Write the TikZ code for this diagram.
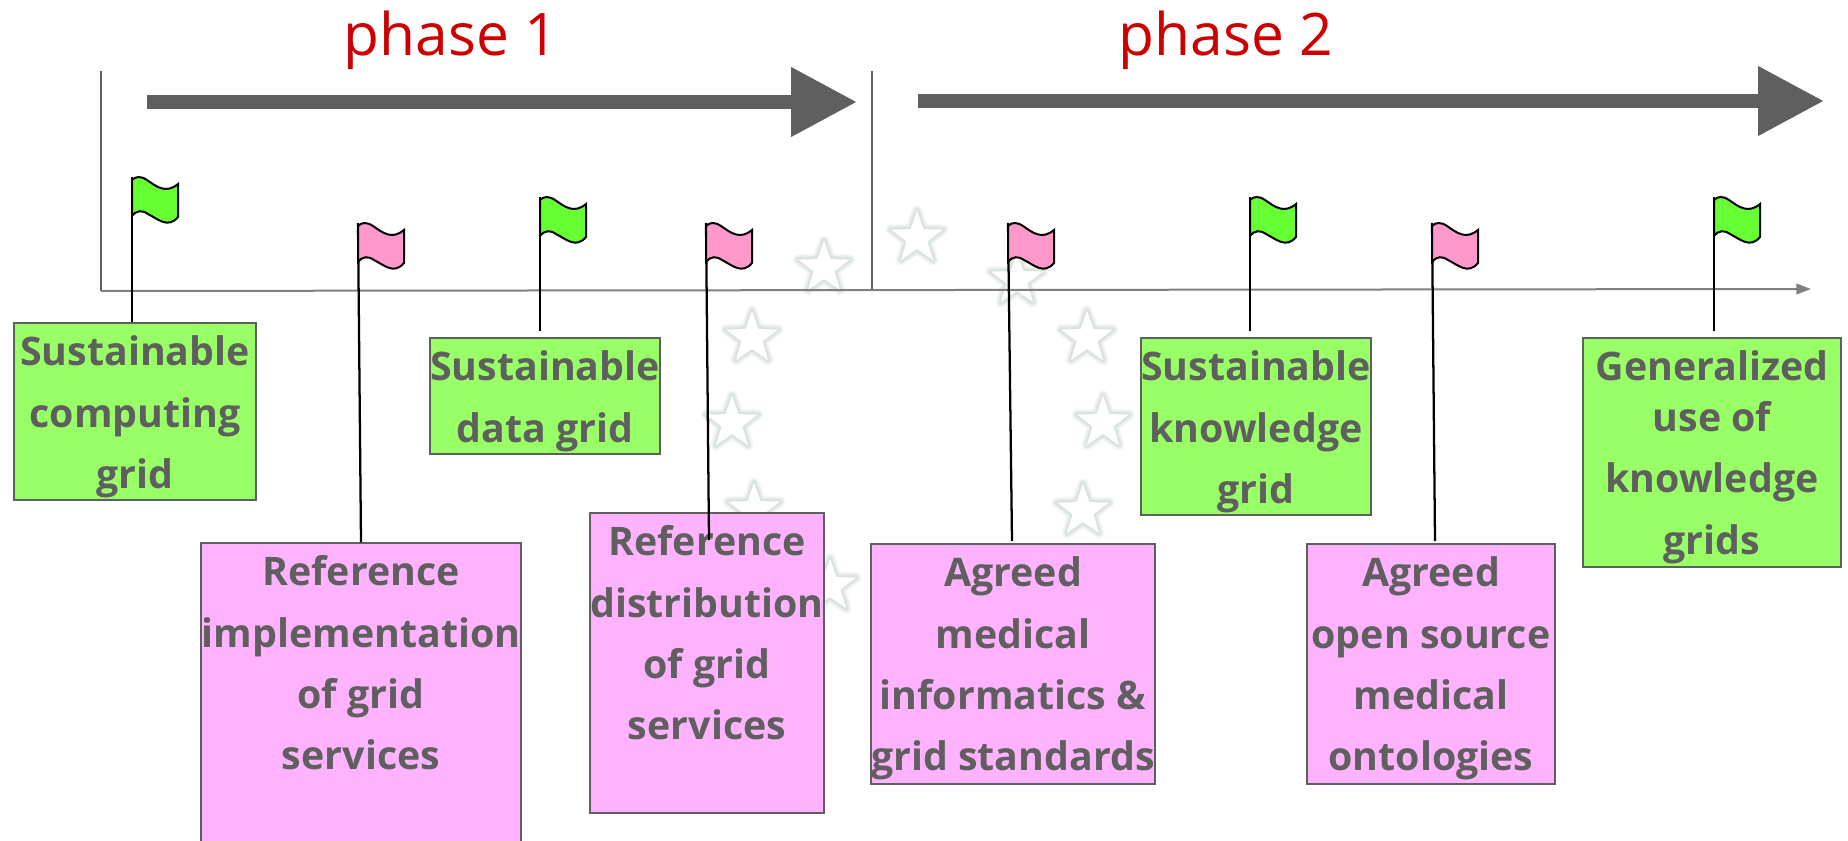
\documentclass[tikz,border=0pt]{standalone}
\usepackage{fontspec}
\setmainfont{Open Sans}
\usetikzlibrary{arrows.meta, positioning, calc, shapes.geometric}
\definecolor{phasered}{HTML}{CC0000}
\definecolor{axisgray}{HTML}{808080}
\definecolor{darkgray}{HTML}{5F5F5F}
\definecolor{boxgreen}{HTML}{99FF66}
\definecolor{boxpink}{HTML}{FFB3FF}
\definecolor{flaggreen}{HTML}{66FF33}
\definecolor{flagpink}{HTML}{FF99CC}
\definecolor{starglow}{HTML}{A5B8AC}
\tikzset{
  gridbox/.style={draw=darkgray, line width=1.6pt, anchor=north, inner sep=0pt, align=center,
    text=darkgray, font=\fontsize{29.5}{46}\selectfont\bfseries},
  greenbox/.style={gridbox, fill=boxgreen},
  pinkbox/.style={gridbox, fill=boxpink},
  bigarrow/.style={darkgray, line width=10.5pt, -{Triangle[length=49.5pt,width=49.5pt]}},
  phaselabel/.style={text=phasered, font=\fontsize{44}{50}\selectfont},
  eustar/.style={star, star points=5, star point ratio=2.5, minimum size=41pt, inner sep=0pt, fill=white,
    line join=round,
    preaction={draw=starglow, line width=9pt, opacity=.05},
    preaction={draw=starglow, line width=7.5pt, opacity=.08},
    preaction={draw=starglow, line width=6pt, opacity=.1},
    preaction={draw=starglow, line width=4.5pt, opacity=.12},
    preaction={draw=starglow, line width=3pt, opacity=.14}},
  pole/.style={black, line width=1.7pt},
  flagpic/.pic={
    \draw[black, line width=1.5pt, fill=#1] (0,3) .. controls (4,-1) and (9,-1) .. (15,3)
      .. controls (25,10) and (34,17) .. (46,7) -- (46,40) .. controls (36,52) and (26,42) .. (16,37)
      .. controls (10,33) and (5,33) .. (0,39) -- cycle;
  }
}
\begin{document}
\begin{tikzpicture}[x=0.75pt,y=-0.75pt]
        \useasboundingbox (0,0) rectangle (1848,841);
        \clip (0,0) rectangle (1848,841);
        \node[eustar] (S1) at (917,238) {};
        \node[eustar] (S2) at (824,268) {};
        \node[eustar] (S3) at (752,338) {};
        \node[eustar] (S4) at (732,423) {};
        \node[eustar] (S5) at (754,510) {};
        \node[eustar] (S6) at (830,586) {};
        \node[eustar] (S7) at (1017,280) {};
        \node[eustar] (S8) at (1087,338) {};
        \node[eustar] (S9) at (1103,423) {};
        \node[eustar] (S10) at (1083,511) {};
%
        \node[phaselabel] (P1) at (451,40) {phase 1};
        \node[phaselabel] (P2) at (1226,40) {phase 2};
        \coordinate (P1a) at (147,102);
        \coordinate (P1b) at (857,102);
        \coordinate (P2a) at (918,101);
        \coordinate (P2b) at (1824,101);
        \draw[bigarrow] (P1a) -- (P1b);
        \draw[bigarrow] (P2a) -- (P2b);
%
        \coordinate (O) at (101,291);
        \coordinate (Otop) at (101,71);
        \coordinate (M) at (872,291);
        \coordinate (Mtop) at (872,71);
        \coordinate (E) at (1811,289);
        \draw[darkgray, line width=1.8pt] (Otop) -- (O);
        \draw[darkgray, line width=1.8pt] (Mtop) -- (M);
        \draw[axisgray, line width=1.5pt, -{Triangle[length=11pt,width=8pt]}] (O) -- (E);
%
        \node[greenbox, minimum width=182pt, minimum height=133pt, text depth=9pt, text height=124pt] (A) at (135,322) {Sustainable\\computing\\grid};
        \node[greenbox, minimum width=172pt, minimum height=87pt, text depth=9pt, text height=78pt] (B) at (545,337) {Sustainable\\data grid};
        \node[greenbox, minimum width=172pt, minimum height=133pt, text depth=9pt, text height=124pt] (C) at (1256,337) {Sustainable\\knowledge\\grid};
        \node[greenbox, minimum width=193pt, minimum height=172pt, text depth=10pt, text height=162pt] (D) at (1712,337) {Generalized\\[-8pt]use of\\knowledge\\grids};
%
        \node[pinkbox, minimum width=240pt, minimum height=240pt, text depth=70pt, text height=170pt] (F) at (361,542) {Reference\\implementation\\of grid\\services};
        \node[pinkbox, minimum width=176pt, minimum height=225pt, text depth=55pt, text height=170pt] (G) at (707,512) {Reference\\distribution\\of grid\\services};
        \node[pinkbox, minimum width=213pt, minimum height=180pt, text depth=10pt, text height=170pt] (H) at (1013,543) {Agreed\\medical\\informatics \&\\grid standards};
        \node[pinkbox, minimum width=186pt, minimum height=180pt, text depth=10pt, text height=170pt] (J) at (1431,543) {Agreed\\open source\\medical\\ontologies};
%
        \coordinate (Atop) at (132,177);
        \coordinate (Afoot) at (132,322);
        \coordinate (Ftop) at (358,223);
        \coordinate (Ffoot) at (361,542);
        \coordinate (Btop) at (540,197);
        \coordinate (Bfoot) at (540,331);
        \coordinate (Gtop) at (706,223);
        \coordinate (Gfoot) at (709,540);
        \coordinate (Htop) at (1008,223);
        \coordinate (Hfoot) at (1012,541);
        \coordinate (Ctop) at (1250,197);
        \coordinate (Cfoot) at (1250,331);
        \coordinate (Jtop) at (1432,223);
        \coordinate (Jfoot) at (1435,541);
        \coordinate (Dtop) at (1714,197);
        \coordinate (Dfoot) at (1714,331);
%
        \draw[pole, line width=2.2pt] (Atop) -- (Afoot);
        \draw[pole] (Ftop) -- (Ffoot);
        \draw[pole] (Btop) -- (Bfoot);
        \draw[pole] (Gtop) -- (Gfoot);
        \draw[pole] (Htop) -- (Hfoot);
        \draw[pole] (Ctop) -- (Cfoot);
        \draw[pole] (Jtop) -- (Jfoot);
        \draw[pole] (Dtop) -- (Dfoot);
%
        \pic at (Atop) {flagpic=flaggreen};
        \pic at (Ftop) {flagpic=flagpink};
        \pic at (Btop) {flagpic=flaggreen};
        \pic at (Gtop) {flagpic=flagpink};
        \pic at (Htop) {flagpic=flagpink};
        \pic at (Ctop) {flagpic=flaggreen};
        \pic at (Jtop) {flagpic=flagpink};
        \pic at (Dtop) {flagpic=flaggreen};
\end{tikzpicture}
\end{document}
